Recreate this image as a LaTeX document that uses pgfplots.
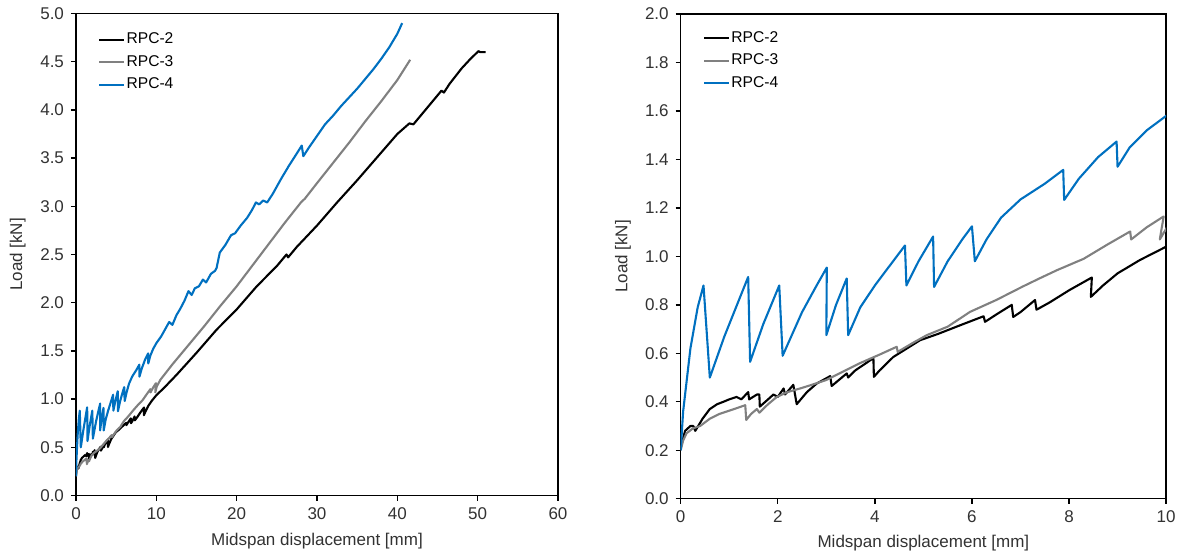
\documentclass[border=0pt]{standalone}
\usepackage{fontspec}
\setmainfont{Liberation Sans}
\usepackage{pgfplots}
\usepackage{pgfplotstable}
\pgfplotsset{compat=1.18}

\definecolor{rpcblue}{RGB}{0,112,192}
\definecolor{rpcgray}{RGB}{128,128,128}
\definecolor{txtgray}{RGB}{50,50,50}

% RPC-2
\pgfplotstableread{
x y
0 0.21
0.09 0.28
0.20 0.30
0.26 0.30
0.30 0.28
0.45 0.33
0.60 0.37
0.75 0.39
0.88 0.40
1.00 0.41
1.15 0.42
1.25 0.41
1.39 0.44
1.41 0.41
1.57 0.43
1.62 0.43
1.63 0.38
1.80 0.41
1.91 0.43
2.00 0.42
2.12 0.455
2.15 0.43
2.32 0.47
2.39 0.39
2.60 0.44
2.80 0.475
3.08 0.506
3.11 0.465
3.42 0.517
3.45 0.50
3.60 0.53
3.97 0.58
3.98 0.503
4.10 0.53
4.38 0.585
4.93 0.654
5.30 0.68
5.76 0.716
6.24 0.753
6.27 0.73
6.50 0.76
6.82 0.80
6.85 0.75
7.00 0.77
7.30 0.82
7.33 0.78
7.60 0.81
8.00 0.86
8.47 0.913
8.45 0.833
8.70 0.88
9.00 0.93
9.46 0.985
10.0 1.04
11.0 1.12
12.5 1.25
15.0 1.48
17.5 1.72
20.0 1.93
22.5 2.17
25.0 2.38
26.2 2.50
26.4 2.47
27.5 2.58
30.0 2.80
32.5 3.04
35.0 3.27
37.5 3.51
40.0 3.75
41.5 3.86
42.0 3.85
43.0 3.95
45.0 4.15
45.5 4.20
45.8 4.18
46.5 4.27
48.0 4.43
49.0 4.52
50.1 4.61
50.3 4.60
51.0 4.60
}\rpctwo

% RPC-3
\pgfplotstableread{
x y
0 0.20
0.05 0.24
0.12 0.27
0.25 0.29
0.40 0.30
0.60 0.33
0.80 0.35
0.95 0.36
1.10 0.37
1.33 0.386
1.35 0.325
1.45 0.35
1.57 0.37
1.62 0.355
1.80 0.39
1.98 0.42
2.20 0.44
2.46 0.455
2.70 0.47
3.00 0.49
3.30 0.52
3.70 0.56
4.10 0.595
4.45 0.627
4.47 0.606
4.80 0.645
5.07 0.675
5.50 0.71
5.96 0.771
6.50 0.82
7.06 0.877
7.40 0.91
7.75 0.943
8.30 0.99
8.80 1.05
9.26 1.103
9.28 1.07
9.60 1.12
9.95 1.165
9.87 1.07
10.05 1.13
10.5 1.20
12.0 1.36
14.0 1.56
16.0 1.76
18.0 1.97
20.0 2.17
22.0 2.39
24.0 2.61
26.0 2.83
28.0 3.04
28.5 3.08
30.0 3.24
32.0 3.45
34.0 3.66
36.0 3.88
38.0 4.09
40.0 4.31
41.6 4.52
}\rpcthree

% RPC-4
\pgfplotstableread{
x y
0 0.20
0.05 0.36
0.20 0.62
0.35 0.79
0.47 0.88
0.60 0.50
0.90 0.67
1.20 0.82
1.39 0.915
1.43 0.565
1.70 0.72
2.03 0.88
2.10 0.59
2.50 0.77
2.80 0.88
3.01 0.954
3.00 0.675
3.20 0.80
3.42 0.909
3.45 0.675
3.70 0.79
4.00 0.88
4.30 0.96
4.62 1.045
4.65 0.88
4.90 0.98
5.20 1.082
5.22 0.874
5.50 0.98
5.80 1.07
6.00 1.124
6.06 0.98
6.30 1.07
6.60 1.16
7.00 1.235
7.50 1.30
7.88 1.357
7.90 1.233
8.20 1.32
8.60 1.41
8.98 1.474
9.00 1.37
9.25 1.45
9.60 1.52
10.00 1.58
10.6 1.65
11.2 1.74
11.6 1.80
12.0 1.77
12.5 1.87
13.0 1.94
13.5 2.02
14.0 2.12
14.4 2.08
14.8 2.15
15.3 2.17
15.8 2.24
16.2 2.21
16.8 2.30
17.3 2.33
17.5 2.36
17.9 2.52
18.6 2.60
19.3 2.70
19.8 2.72
20.5 2.80
21.3 2.88
21.9 2.96
22.4 3.04
22.8 3.02
23.3 3.06
23.8 3.04
24.5 3.13
25.5 3.28
26.5 3.42
27.5 3.55
28.1 3.63
28.3 3.52
29.0 3.61
30.0 3.73
31.0 3.85
32.0 3.94
33.0 4.04
34.0 4.13
35.0 4.22
36.0 4.32
37.0 4.42
38.0 4.53
39.0 4.65
40.0 4.79
40.6 4.90
}\rpcfour

\pgfplotsset{
  rpc/.style={
    scale only axis,
    axis line style={line width=0.7pt},
    tick align=outside,
    major tick length=2.5pt,
    tick style={line width=0.7pt, black},
    xtick pos=bottom, ytick pos=left,
    /pgf/number format/assume math mode=true,
    ticklabel style={font=\fontsize{8.5}{10}\selectfont, text=txtgray},
    label style={font=\fontsize{8.5}{10}\selectfont, text=txtgray},
    yticklabel style={/pgf/number format/.cd, fixed, fixed zerofill, precision=1},
    xlabel={Midspan displacement [mm]},
    ylabel={Load [kN]},
    legend cell align=left,
    legend style={draw=none, fill=none, anchor=north west,
      font=\fontsize{7.8}{9}\selectfont, row sep=1.3pt,
      nodes={inner xsep=0.6pt, inner ysep=1.5pt}},
    legend image code/.code={\draw[##1] (0pt,0pt) -- (12.5pt,0pt);},
    every axis plot/.append style={line width=1.05pt, line join=round},
  }
}

\begin{document}
\begin{tikzpicture}
\begin{axis}[rpc, at={(0pt,0pt)}, anchor=south west,
  width=241pt, height=241pt,
  xmin=0, xmax=60, ymin=0, ymax=5,
  xtick={0,10,...,60}, ytick={0,0.5,...,5},
  x label style={at={(axis description cs:0.5,-0.095)}, anchor=center},
  y label style={at={(axis description cs:-0.121,0.5)}, anchor=center},
  legend style={at={(axis description cs:0.033,0.975)}}]
\addplot[black] table {\rpctwo}; \addlegendentry{RPC-2}
\addplot[rpcgray] table {\rpcthree}; \addlegendentry{RPC-3}
\addplot[rpcblue] table {\rpcfour}; \addlegendentry{RPC-4}
\end{axis}
\begin{axis}[rpc, at={(302.35pt,-1.6pt)}, anchor=south west,
  width=242.7pt, height=242.3pt,
  xmin=0, xmax=10, ymin=0, ymax=2,
  xtick={0,2,...,10}, ytick={0,0.2,...,2.01},
  x label style={at={(axis description cs:0.5,-0.092)}, anchor=center},
  y label style={at={(axis description cs:-0.119,0.5)}, anchor=center},
  legend style={at={(axis description cs:0.033,0.98)}}]
\addplot[black] table {\rpctwo}; \addlegendentry{RPC-2}
\addplot[rpcgray] table {\rpcthree}; \addlegendentry{RPC-3}
\addplot[rpcblue] table {\rpcfour}; \addlegendentry{RPC-4}
\end{axis}
\pgfresetboundingbox
\path[use as bounding box] (-38pt,-28.75pt) rectangle (551.5pt,247.75pt);
\end{tikzpicture}
\end{document}
